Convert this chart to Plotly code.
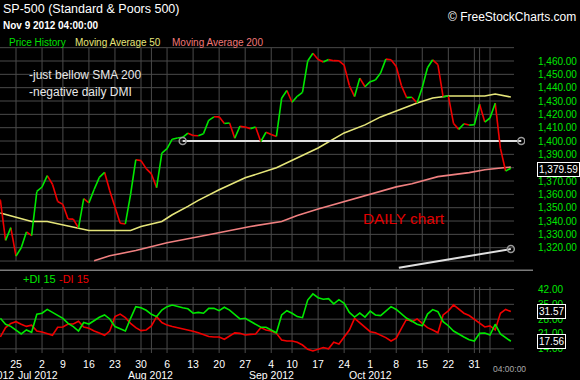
import plotly.graph_objects as go

# ---------------- data ----------------
# trading-day index 0 = Jun 19 2012 ... 99 = Nov 9 2012
close = [1357.98, 1355.69, 1325.51, 1335.02, 1313.72, 1319.99, 1331.85, 1329.04, 1362.16,
         1365.51, 1374.02, 1367.58, 1354.68, 1352.46, 1341.47, 1341.45, 1334.76, 1356.78,
         1353.64, 1363.67, 1372.78, 1376.51, 1362.66, 1350.52, 1338.31, 1337.89, 1360.02,
         1385.97, 1385.30, 1379.32,
         1375.32, 1365.00, 1390.99, 1394.23, 1401.35, 1402.22, 1402.80, 1405.87, 1404.11,
         1403.93, 1405.53, 1415.51, 1418.16, 1418.13, 1413.17, 1413.49, 1402.08, 1411.13,
         1410.44, 1409.30, 1410.49, 1399.48, 1406.58,
         1404.94, 1403.44, 1432.12, 1437.92, 1429.08, 1433.56, 1436.56, 1459.99, 1465.77,
         1461.19, 1459.32, 1461.05, 1460.26, 1460.15, 1456.89, 1441.59, 1433.32, 1447.15,
         1440.67,
         1444.49, 1445.75, 1450.99, 1461.40, 1460.93, 1455.88, 1441.48, 1432.56, 1432.84,
         1428.59, 1440.13, 1454.92, 1460.91, 1457.34, 1433.19, 1433.82, 1413.11, 1408.75,
         1412.97, 1411.94, 1412.16,
         1427.59, 1414.20, 1417.26, 1428.39, 1394.53, 1377.51, 1379.59]

ma50_idx = [1, 7, 10, 16, 18, 26, 28, 32, 34, 37, 39, 43, 48, 54, 58, 62, 67, 71, 74, 78,
            81, 84, 87, 94, 96, 99]
ma50_val = [1346.0, 1339.7, 1339.7, 1334.7, 1332.9, 1332.9, 1335.9, 1339.7, 1344.7, 1351.0,
            1355.5, 1363.4, 1372.4, 1379.9, 1387.3, 1394.8, 1406.1, 1412.1, 1418.1, 1424.0,
            1428.5, 1432.3, 1433.8, 1433.8, 1435.3, 1433.0]

ma200_idx = [19, 22, 27, 33, 39, 45, 49, 55, 58, 62, 66, 71, 77, 80, 83, 85, 91, 94, 98, 99]
ma200_val = [1310.2, 1313.9, 1317.9, 1323.7, 1328.2, 1332.9, 1335.9, 1339.6, 1344.1, 1349.1,
             1353.6, 1358.9, 1365.6, 1367.9, 1370.9, 1373.3, 1376.3, 1378.4, 1380.1, 1380.4]

di_idx = list(range(1, 100))
di_plus = [28.4, 25.6, 24.6, 23.0, 21.0, 22.9, 21.8, 30.3, 30.8, 32.6, 31.2, 29.7, 28.4, 26.0,
           24.5, 22.4, 26.4, 25.7, 27.3, 28.9, 30.0, 28.1, 24.5, 23.4, 22.4, 28.4, 33.9, 33.4,
           32.2, 30.3, 29.2, 32.3, 33.9, 34.7, 33.9, 33.4, 32.9, 30.8, 31.2, 30.8, 33.1, 33.1,
           32.0, 33.6, 32.3, 30.0, 28.1, 28.4, 27.1, 25.6, 24.2, 24.2, 22.9, 21.6, 30.0, 32.0,
           30.8, 29.2, 28.7, 37.0, 39.9, 38.1, 37.4, 37.7, 35.2, 37.2, 35.5, 31.2, 29.0, 30.9,
           29.0, 31.8, 30.0, 29.7, 31.8, 33.9, 32.6, 30.4, 28.4, 27.1, 25.6, 24.9, 30.4, 32.5,
           31.5, 26.8, 24.9, 22.4, 20.8, 19.6, 18.3, 17.7, 21.3, 21.5, 20.5, 25.6, 21.0, 19.3,
           17.56]
di_minus = [19.6, 24.0, 26.0, 26.8, 25.6, 24.6, 25.2, 22.4, 21.9, 21.2, 20.4, 24.2, 24.3, 25.7,
            25.7, 27.0, 24.3, 23.7, 22.4, 21.5, 20.4, 22.4, 29.2, 30.4, 28.7, 26.0, 24.0, 22.6,
            22.9, 24.8, 29.2, 26.4, 25.2, 24.5, 24.0, 23.4, 22.7, 22.3, 21.6, 20.8, 19.8, 19.6,
            19.6, 18.5, 20.1, 21.5, 21.3, 20.5, 20.8, 21.0, 24.0, 22.9, 22.4, 21.3, 18.2, 17.7,
            17.7, 17.1, 15.8, 13.8, 13.0, 13.8, 14.6, 14.0, 17.1, 16.3, 19.8, 22.9, 28.4, 26.2,
            24.2, 22.1, 21.6, 20.5, 19.3, 17.7, 19.0, 23.7, 28.1, 26.8, 28.1, 26.0, 24.0, 22.9,
            21.6, 30.0, 31.9, 34.7, 32.8, 30.8, 29.7, 27.9, 26.3, 24.3, 24.8, 22.9, 30.8, 32.6,
            31.57]

support_x = [36, 101]
support_y = [1400, 1400]
trend_x = [77.5, 99]
trend_y = [1305.0, 1319.0]

week_idx = [4, 9, 13, 18, 23, 28, 33, 38, 43, 48, 53, 57, 62, 67, 72, 77, 82, 87, 92]
week_txt = ["25", "2", "9", "16", "23", "30", "6", "13", "20", "27", "4", "10", "17", "24",
            "1", "8", "15", "22", "31"]
extra_grid_idx = [30, 93, 95]
month_idx = [-0.5, 8.2, 29.9, 53, 72]
month_txt = ["Jun 2012", "Jul 2012", "Aug 2012", "Sep 2012", "Oct 2012"]

price_ticks = list(range(1320, 1461, 10))
price_grid = list(range(1310, 1471, 10))
di_ticks = [14, 21, 28, 35, 42]

# ---------------- geometry ----------------
W, H = 580, 380
ML, MR, MT, MB = 0, 55, 47, 27
PW, PH = W - ML - MR, H - MT - MB
XR = [0.929, 101.72]
PX_PER_DAY = PW / (XR[1] - XR[0])
Y1R = [1304.03, 1470.5]
Y2R = [12.03, 43.18]
TOP_DOM = [(353 - 269) / PH, 1.0]
BOT_DOM = [0.0, (353 - 287) / PH]
X_GRID_END = 99.61

FONT = "Liberation Sans, Arial, sans-serif"
GREEN = "#00e800"
RED = "#f00000"
GRID = "#4a4a4a"


def px(x, y):
    return (x - ML) / PW, (H - MB - y) / PH


fig = go.Figure()

# price segments coloured by direction
gx, gy, rx, ry = [], [], [], []
for i in range(1, len(close)):
    if close[i] >= close[i - 1]:
        gx += [i - 1, i, None]; gy += [close[i - 1], close[i], None]
    else:
        rx += [i - 1, i, None]; ry += [close[i - 1], close[i], None]

fig.add_trace(go.Scatter(x=ma200_idx, y=ma200_val, mode="lines",
                         line=dict(color="#f08080", width=1.6), xaxis="x", yaxis="y"))
fig.add_trace(go.Scatter(x=ma50_idx, y=ma50_val, mode="lines",
                         line=dict(color="#e6e67a", width=1.6), xaxis="x", yaxis="y"))
fig.add_trace(go.Scatter(x=support_x, y=support_y, mode="lines",
                         line=dict(color="#e0e0e0", width=2.2), xaxis="x", yaxis="y"))
fig.add_trace(go.Scatter(x=trend_x, y=trend_y, mode="lines",
                         line=dict(color="#e0e0e0", width=2.0), xaxis="x", yaxis="y"))
fig.add_trace(go.Scatter(x=rx, y=ry, mode="lines", line=dict(color=RED, width=1.6),
                         xaxis="x", yaxis="y"))
fig.add_trace(go.Scatter(x=gx, y=gy, mode="lines", line=dict(color=GREEN, width=1.6),
                         xaxis="x", yaxis="y"))
fig.add_trace(go.Scatter(x=support_x + [trend_x[-1]], y=support_y + [trend_y[-1]],
                         mode="markers",
                         marker=dict(symbol="circle-open", size=7, color="#9a9a9a",
                                     line=dict(width=1.5)), xaxis="x", yaxis="y"))

fig.add_trace(go.Scatter(x=di_idx, y=di_minus, mode="lines", line=dict(color=RED, width=1.6),
                         xaxis="x2", yaxis="y2"))
fig.add_trace(go.Scatter(x=di_idx, y=di_plus, mode="lines", line=dict(color=GREEN, width=1.6),
                         xaxis="x2", yaxis="y2"))

shapes = []
for v in price_grid:
    shapes.append(dict(type="line", xref="x", yref="y", x0=XR[0], x1=X_GRID_END, y0=v, y1=v,
                       line=dict(color=GRID, width=1), layer="below"))
for xi in week_idx + extra_grid_idx:
    shapes.append(dict(type="line", xref="x", yref="y", x0=xi, x1=xi, y0=1310, y1=1470,
                       line=dict(color=GRID, width=1), layer="below"))
    shapes.append(dict(type="line", xref="x2", yref="y2", x0=xi, x1=xi, y0=Y2R[0], y1=Y2R[1],
                       line=dict(color=GRID, width=1), layer="below"))
for v in di_ticks:
    shapes.append(dict(type="line", xref="x2", yref="y2", x0=XR[0], x1=X_GRID_END, y0=v, y1=v,
                       line=dict(color=GRID, width=1), layer="below"))
dx0, dy0 = px(0, 270.3)
dx1, _ = px(533, 270.3)
shapes.append(dict(type="line", xref="paper", yref="paper", x0=dx0, x1=dx1, y0=dy0, y1=dy0,
                   line=dict(color="#7a7a7a", width=1.5)))

ann = []


def text(x, y, s, size, color, anchor="left", bold=False):
    ax, ay = px(x, y)
    ann.append(dict(xref="paper", yref="paper", x=ax, y=ay, text=("<b>%s</b>" % s) if bold else s,
                    showarrow=False, xanchor=anchor, yanchor="middle",
                    font=dict(family=FONT, size=size, color=color)))


text(1, 9, "SP-500 (Standard &amp; Poors 500)", 12.5, "#ffffff")
text(1, 25, "Nov 9 2012 04:00:00", 10, "#ffffff", bold=True)
text(7, 42, "Price History", 10, "#00e000")
text(73, 42, "Moving Average 50", 10, "#e6e67a")
text(170, 42, "Moving Average 200", 10, "#f07878")
text(578, 17, "© FreeStockCharts.com", 12, "#ffffff", anchor="right")
text(27, 75, "-just bellow SMA 200", 12, "#e8e8e8")
text(27, 91.5, "-negative daily DMI", 12, "#e8e8e8")
text(361, 218, "DAILY chart", 15.3, "#e00000")
text(21, 279, "+DI 15", 11, GREEN)
text(57, 279, "-DI 15", 11, RED)
text(491, 369, "04:00:00", 8.5, "#a8a8a8")

for mi, mt in zip(month_idx, month_txt):
    xa = max(mi, XR[0] + 0.1)
    ann.append(dict(xref="x2", yref="paper", x=xa, y=px(0, 374.5)[1], text=mt, showarrow=False,
                    xanchor="center", yanchor="middle", xshift=(mi - xa) * PX_PER_DAY,
                    font=dict(family=FONT, size=10.5, color="#ffffff")))

bx = px(536.5, 0)[0]
box = dict(xref="paper", x=bx, xanchor="left", yanchor="middle", showarrow=False,
           bgcolor="#000000", bordercolor="#ffffff", borderwidth=1, borderpad=1,
           font=dict(family=FONT, size=10, color="#ffffff"))
ann.append(dict(box, yref="y", y=close[-1], yshift=-1.5, text="{:,.2f}".format(close[-1])))
ann.append(dict(box, yref="y2", y=di_minus[-1], text="{:.2f}".format(di_minus[-1])))
ann.append(dict(box, yref="y2", y=di_plus[-1], text="{:.2f}".format(di_plus[-1])))

fig.update_layout(
    width=W, height=H, autosize=False,
    margin=dict(l=ML, r=MR, t=MT, b=MB, pad=0),
    paper_bgcolor="#000000", plot_bgcolor="#000000",
    showlegend=False, shapes=shapes, annotations=ann,
    xaxis=dict(domain=[0, 1], anchor="y", range=XR, showticklabels=False, showgrid=False,
               zeroline=False, showline=False, ticks=""),
    yaxis=dict(domain=TOP_DOM, anchor="x", range=Y1R, side="right", showgrid=False,
               zeroline=False, showline=False, tickvals=price_ticks,
               ticktext=["{:,.2f}".format(v) for v in price_ticks],
               ticks="outside", ticklen=10, tickcolor="#000000",
               tickfont=dict(family=FONT, size=10, color="#00e600")),
    xaxis2=dict(domain=[0, 1], anchor="y2", range=XR, showgrid=False, zeroline=False,
                showline=False, tickvals=week_idx, ticktext=week_txt, ticks="outside",
                ticklen=1, tickcolor="#000000",
                tickfont=dict(family=FONT, size=10.5, color="#ffffff")),
    yaxis2=dict(domain=BOT_DOM, anchor="x2", range=Y2R, side="right", showgrid=False,
                zeroline=False, showline=False, tickvals=di_ticks,
                ticktext=["{:.2f}".format(v) for v in di_ticks],
                ticks="outside", ticklen=10, tickcolor="#000000",
                tickfont=dict(family=FONT, size=10, color="#00e600")),
)

fig.write_html("out.html", config={"displayModeBar": False},
               post_script="document.body.style.margin='0';document.body.style.background='#000';")
